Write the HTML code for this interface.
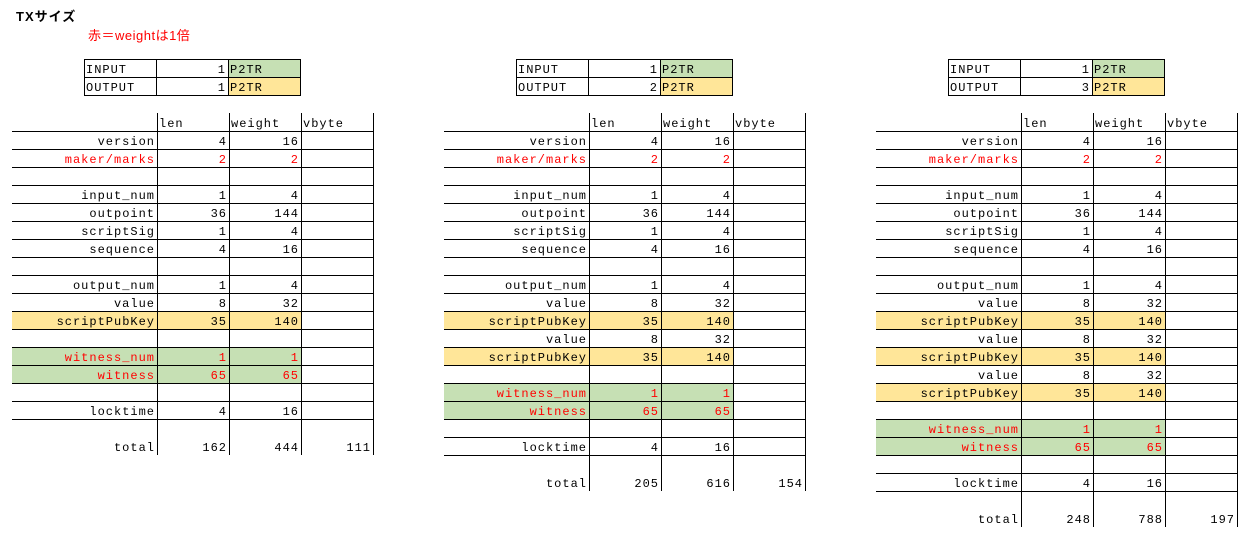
<!DOCTYPE html>
<html><head><meta charset="utf-8"><style>
body{margin:0;width:1250px;height:540px;background:#fff;position:relative;overflow:hidden;font-family:"Liberation Mono","Noto Sans CJK JP",monospace;font-size:12px;letter-spacing:1px;color:#000}
.c{position:absolute;box-sizing:border-box;height:18px;line-height:18px;padding-top:2px;white-space:nowrap;overflow:visible}
.r{text-align:right;padding-right:2px}
.l{text-align:left;padding-left:2px}
.red{color:#f00}
.hl{position:absolute;height:1px;background:#000}
.vl{position:absolute;width:1px;background:#000}
</style></head><body>
<div style="position:absolute;left:16px;top:6px;font-weight:bold;font-size:13px;font-family:'Liberation Sans','Noto Sans CJK JP',sans-serif">TXサイズ</div>
<div class="red" style="position:absolute;left:88px;top:25px;font-size:13px;font-family:'Liberation Sans','Noto Sans CJK JP',sans-serif;letter-spacing:0.5px">赤＝weightは1倍</div>
<div id="root"></div>
<script>
const outputsCount=[1,2,3];
const totals=[[162,444,111],[205,616,154],[248,788,197]];
const GREEN='#C6E0B4',YELLOW='#FFE699';
const root=document.getElementById('root');
function cell(x,y,w,h,text,cls,bg,name){
  const d=document.createElement('div');
  d.className='c '+cls;
  d.style.left=x+'px';d.style.top=y+'px';d.style.width=w+'px';d.style.height=h+'px';
  if(h>18){d.style.paddingTop=(h-18+2)+'px';}
  if(bg)d.style.background=bg;
  d.textContent=text;
  
  
  root.appendChild(d);
}
function line(cls,x,y,len){
  const d=document.createElement('div');
  d.className=cls;
  d.style.left=x+'px';d.style.top=y+'px';
  if(cls==='hl')d.style.width=len+'px';else d.style.height=len+'px';
  
  
  root.appendChild(d);
}
outputsCount.forEach((n,ti)=>{
  const ox=ti*432;
  const sx=84+ox, sy=59;
  cell(sx,sy,72,18,'INPUT','l',null,'input-label');
  cell(sx+72,sy,72,18,'1','r',null,'input-count');
  cell(sx+144,sy,72,18,'P2TR','l',GREEN,'input-type');
  cell(sx,sy+18,72,18,'OUTPUT','l',null,'output-label');
  cell(sx+72,sy+18,72,18,String(n),'r',null,'output-count');
  cell(sx+144,sy+18,72,18,'P2TR','l',YELLOW,'output-type');
  for(let i=0;i<3;i++)line('hl',sx,sy+i*18,217);
  [0,72,144,216].forEach(dx=>line('vl',sx+dx,sy,37));
  const L=12+ox, cx=[157+ox,229+ox,301+ox,373+ox];
  const rows=[['version',4,16,''],['maker/marks',2,2,'red'],null,['input_num',1,4,''],['outpoint',36,144,''],['scriptSig',1,4,''],['sequence',4,16,''],null,['output_num',1,4,'']];
  for(let k=0;k<n;k++){rows.push(['value',8,32,'']);rows.push(['scriptPubKey',35,140,'y']);}
  rows.push(null);rows.push(['witness_num',1,1,'g']);rows.push(['witness',65,65,'g']);rows.push(null);rows.push(['locktime',4,16,'']);
  const top=113;
  cell(cx[0],top,72,18,'len','l',null,'len-header');
  cell(cx[1],top,72,18,'weight','l',null,'weight-header');
  cell(cx[2],top,72,18,'vbyte','l',null,'vbyte-header');
  let y=top+18;
  rows.forEach(r=>{
    if(r){
      const bg=r[3]==='y'?YELLOW:(r[3]==='g'?GREEN:null);
      const cls=(r[3]==='red'||r[3]==='g')?'r red':'r';
      cell(L,y,cx[0]-L,18,r[0],cls,bg,'row-label');
      cell(cx[0],y,72,18,String(r[1]),cls,bg,'len-value');
      cell(cx[1],y,72,18,String(r[2]),cls,bg,'weight-value');
    }
    y+=18;
  });
  const t=totals[ti];
  cell(L,y,cx[0]-L,36,'total','r',null,'total-label');
  cell(cx[0],y,72,36,String(t[0]),'r',null,'total-len');
  cell(cx[1],y,72,36,String(t[1]),'r',null,'total-weight');
  cell(cx[2],y,72,36,String(t[2]),'r',null,'total-vbyte');
  for(let yy=top+18;yy<=y;yy+=18)line('hl',L,yy,cx[3]-L+1);
  cx.forEach(x=>line('vl',x,top,y+36-top));
});
</script>
</body></html>
